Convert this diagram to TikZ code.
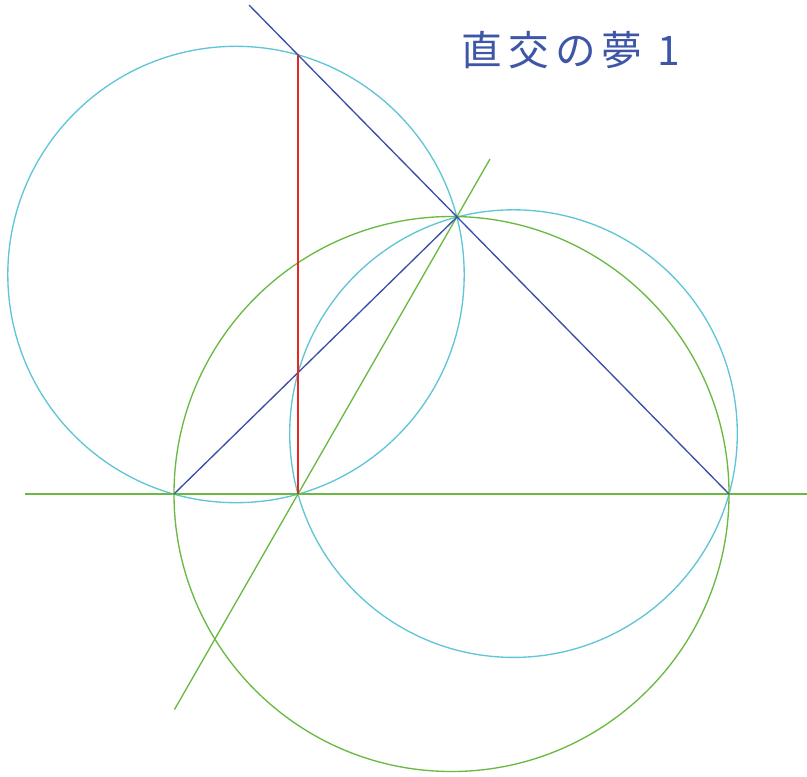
\documentclass[tikz,border=0pt]{standalone}
\usepackage{fontspec}
\newfontfamily\cjk[LetterSpace=15]{Noto Sans CJK JP}
\definecolor{lineblue}{RGB}{58,78,165}
\definecolor{titleblue}{RGB}{62,86,168}
\definecolor{circcyan}{RGB}{96,197,214}
\definecolor{linegreen}{RGB}{106,185,66}
\definecolor{linered}{RGB}{230,40,36}
\tikzset{
  geo/.style={line width=1pt},
  bluel/.style={geo, draw=lineblue},
  greenl/.style={geo, draw=linegreen},
  cyanl/.style={geo, draw=circcyan},
  redl/.style={geo, draw=linered},
  titlestyle/.style={text=titleblue, inner sep=0pt, font=\cjk\fontsize{30.5}{33}\selectfont}
}
\begin{document}
\begin{tikzpicture}[x=0.75pt, y=-0.75pt]
\useasboundingbox (0,0) rectangle (807,776);
% points
\coordinate (A) at (174,494);
\coordinate (B) at (729,494);
\coordinate (C) at (457,217);
\coordinate (P) at (298,494);
\coordinate (Q) at (298,55);
\coordinate (T) at (249,5);
\coordinate (HL) at (25,494);
\coordinate (HR) at (807,494);
\coordinate (G1) at (174.5,709.5);
\coordinate (G2) at (490,159);
\coordinate (M) at (451.5,494);
\coordinate (O1) at (236,274.5);
\coordinate (O2) at (513.5,433.6);
% circles
\draw[cyanl] (O1) circle[radius=228.2];
\draw[cyanl] (O2) circle[radius=223.8];
\draw[greenl] (M) circle[radius=277.5];
% lines
\draw[greenl] (HL) -- (HR);
\draw[greenl] (G1) -- (G2);
\draw[bluel] (A) -- (C);
\draw[bluel] (B) -- (T);
\draw[redl] (P) -- (Q);
% title
\node[titlestyle] (title) at (571,50) {直交の夢 1};
\end{tikzpicture}
\end{document}
